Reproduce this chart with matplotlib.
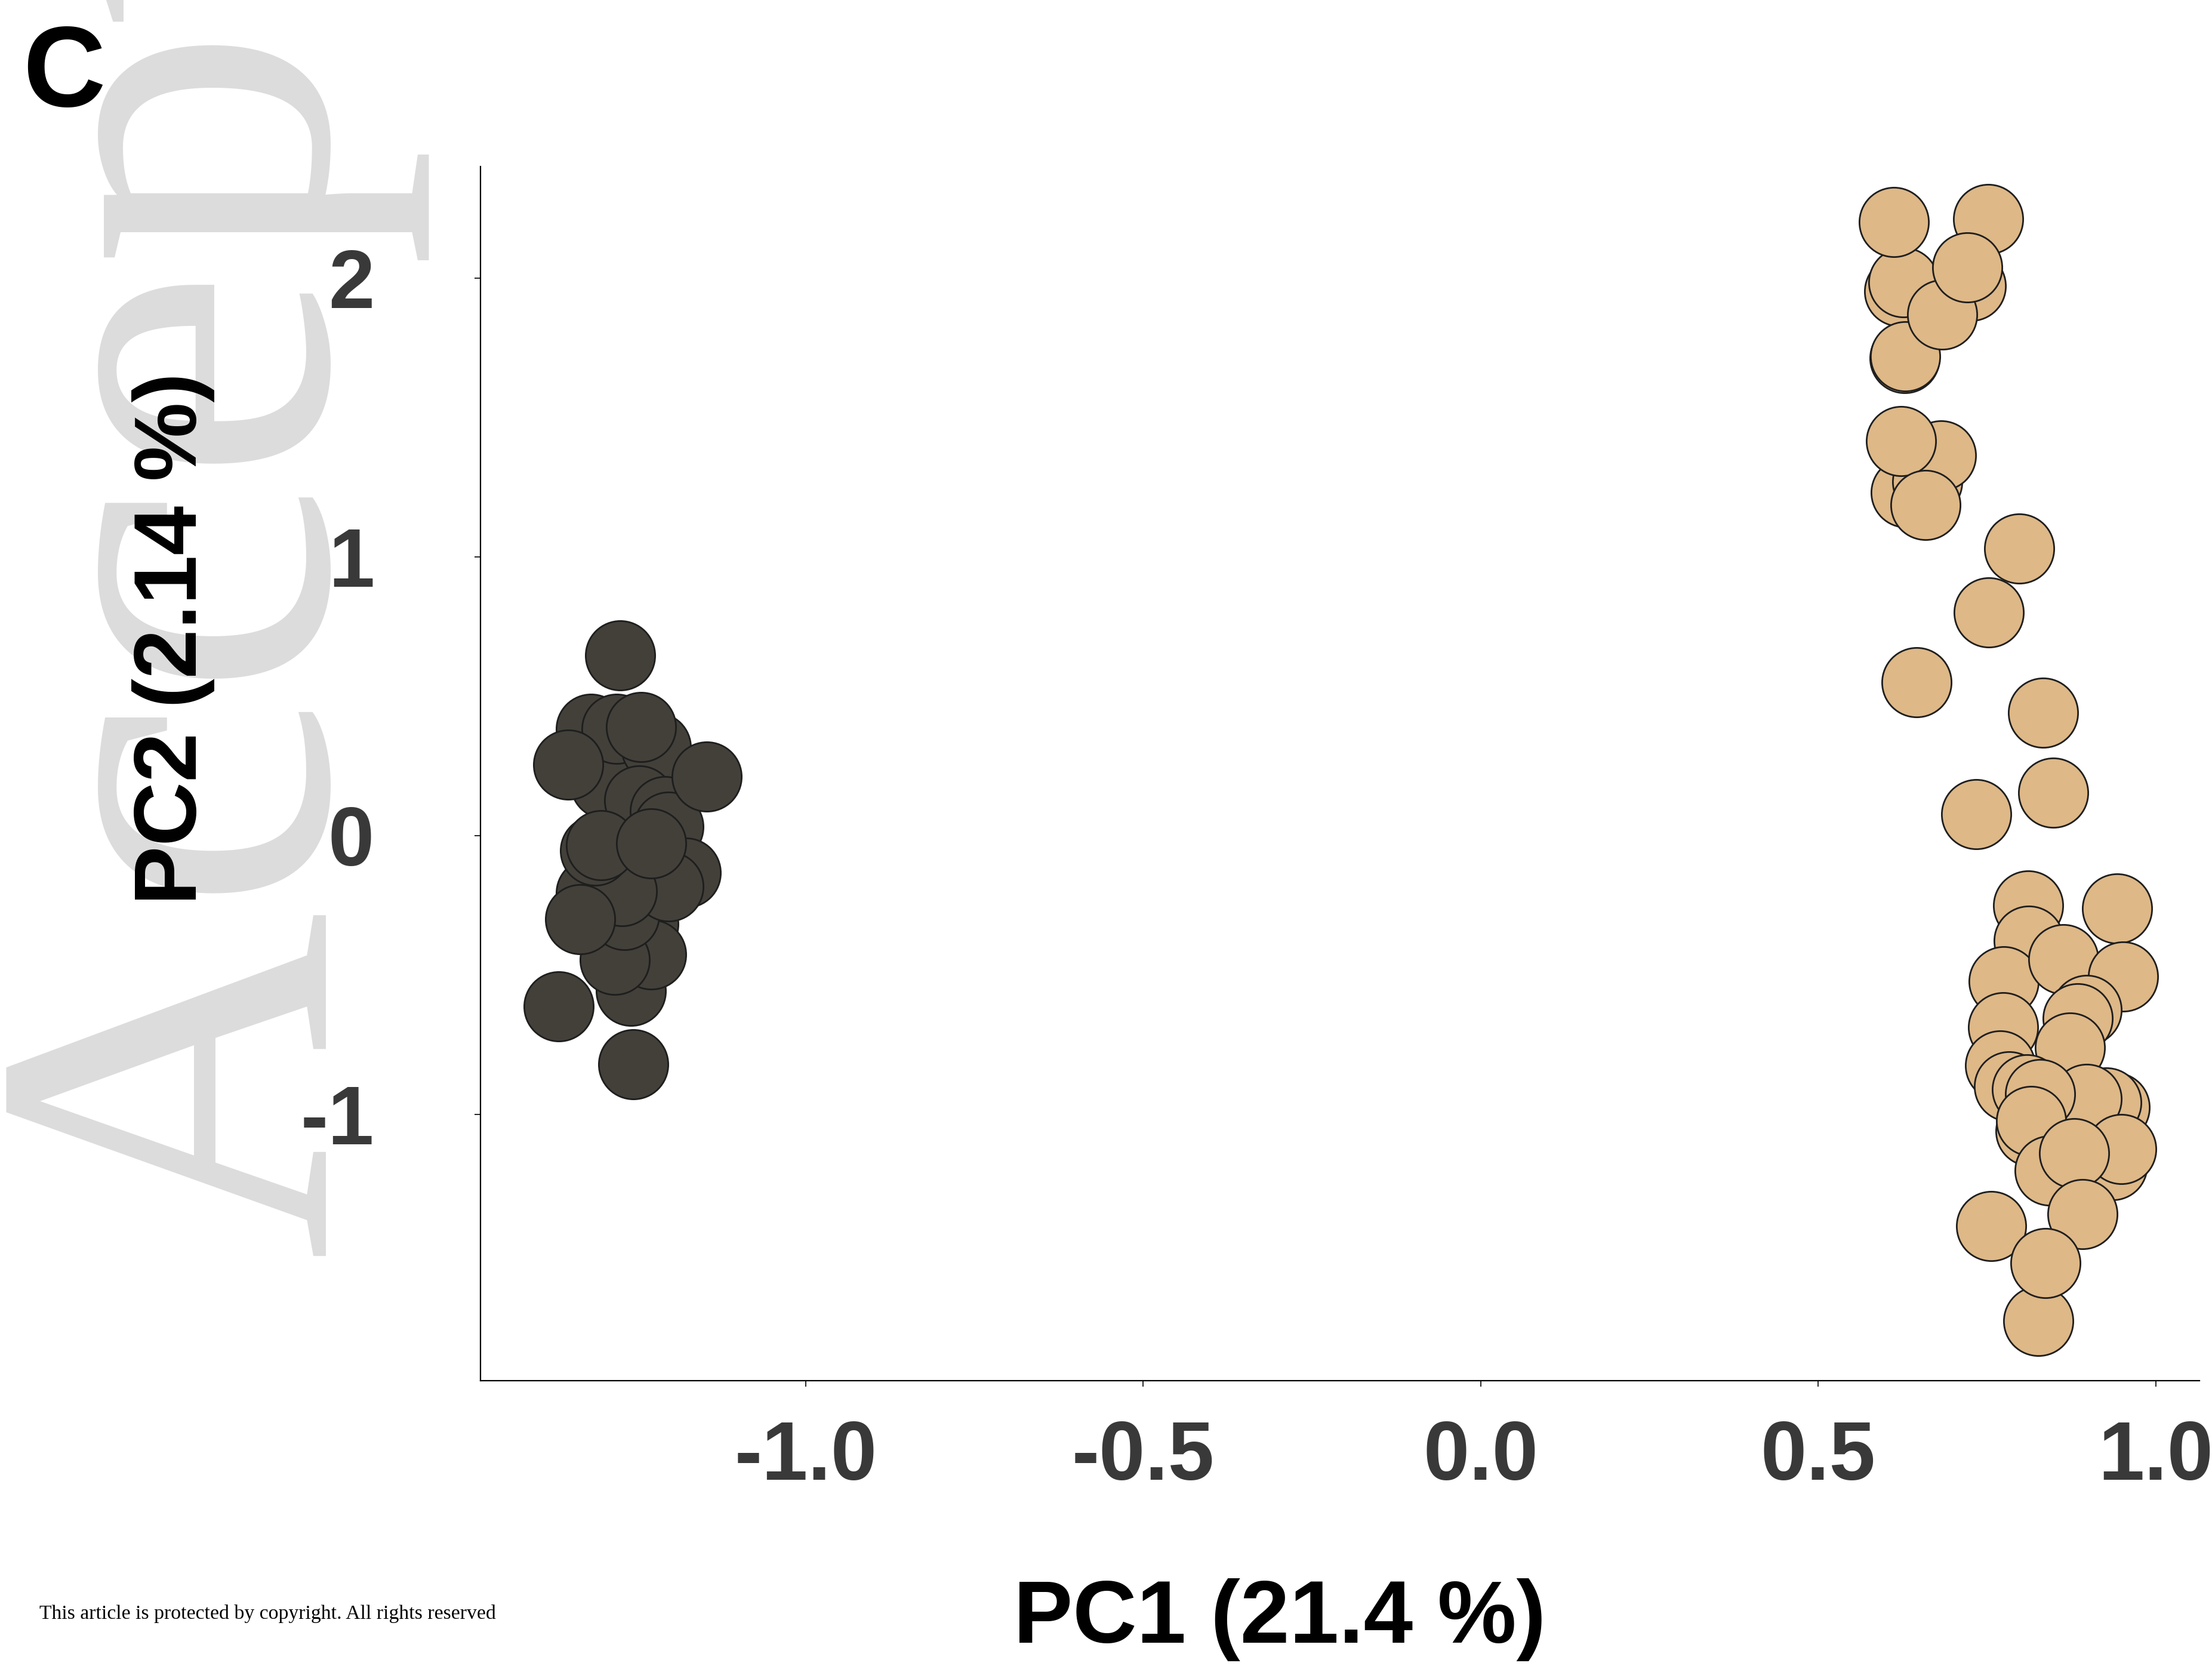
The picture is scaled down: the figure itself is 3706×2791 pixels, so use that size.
import matplotlib
matplotlib.use("Agg")
import matplotlib.pyplot as plt

# PCA scores (drawing order: back to front)
dark_x = [-1.318, -1.297, -1.280, -1.222, -1.247, -1.209, -1.203, -1.244, -1.352, -1.147, -1.275,
          -1.241, -1.259, -1.229, -1.283, -1.269, -1.318, -1.178, -1.203, -1.272, -1.312, -1.303,
          -1.229, -1.334, -1.366, -1.256]
dark_y = [0.383, 0.187, 0.383, 0.316, 0.126, 0.088, 0.033, 0.389, 0.254, 0.211, 0.647,
          -0.317, -0.556, -0.427, -0.446, -0.286, -0.206, -0.133, -0.182, -0.200, -0.053, -0.035,
          -0.028, -0.299, -0.612, -0.820]

tan_x = [0.620, 0.626, 0.612, 0.726, 0.628, 0.629, 0.684, 0.752, 0.721,
         0.630, 0.662, 0.682, 0.623, 0.659,
         0.798, 0.753, 0.646, 0.833, 0.848, 0.734,
         0.811, 0.812, 0.943, 0.775, 0.863, 0.952, 0.898, 0.774, 0.885, 0.770, 0.873, 0.783,
         0.809, 0.939, 0.927, 0.898, 0.829, 0.815, 0.816, 0.936, 0.843, 0.949, 0.879, 0.892,
         0.756, 0.826, 0.837]
tan_y = [1.952, 1.985, 2.200, 1.971, 1.712, 1.719, 1.870, 2.212, 2.039,
         1.230, 1.269, 1.364, 1.415, 1.187,
         1.030, 0.800, 0.550, 0.440, 0.154, 0.076,
         -0.250, -0.377, -0.261, -0.522, -0.444, -0.505, -0.626, -0.688, -0.656, -0.824, -0.760, -0.899,
         -0.911, -0.974, -0.957, -0.945, -0.928, -1.061, -1.024, -1.183, -1.201, -1.125, -1.140, -1.357,
         -1.401, -1.740, -1.534]

xticks = [-1.0, -0.5, 0.0, 0.5, 1.0]
xtick_labels = ["-1.0", "-0.5", "0.0", "0.5", "1.0"]
yticks = [2, 1, 0, -1]
ytick_labels = ["2", "1", "0", "-1"]

W, H = 3706, 2791
fig = plt.figure(figsize=(W / 100, H / 100), dpi=100)

# faded "Accepted Article" watermark
fig.text(548 / W, 1 - 2111 / H, "Accepted Article", rotation=90, rotation_mode="anchor",
         ha="left", va="baseline", fontsize=583, family="Liberation Serif",
         color="#dcdcdc", zorder=-1)

ax = fig.add_axes([805 / W, 1 - 2313 / H, (3685 - 805) / W, (2313 - 279) / H])
ax.patch.set_alpha(0)

ax.scatter(dark_x, dark_y, s=7000, color="#43403a", edgecolor="#1e1e1e", linewidth=2, zorder=3)
ax.scatter(tan_x, tan_y, s=7000, color="#deb887", edgecolor="#1e1e1e", linewidth=2, zorder=3)

ax.set_xlim(-1.482, 1.065)
ax.set_ylim(-1.955, 2.40)

for side in ["top", "right"]:
    ax.spines[side].set_visible(False)
for side in ["left", "bottom"]:
    ax.spines[side].set_linewidth(1.6)

ax.set_xticks(xticks)
ax.set_xticklabels(xtick_labels)
ax.set_yticks(yticks)
ax.set_yticklabels(ytick_labels)
ax.tick_params(axis="both", direction="out", length=7, width=1.2, colors="black",
               labelcolor="#393939", labelsize=100)
ax.tick_params(axis="x", pad=40)
ax.tick_params(axis="y", pad=121)
for lab in ax.get_xticklabels() + ax.get_yticklabels():
    lab.set_fontfamily("Liberation Sans")
    lab.set_fontweight("bold")

fig.text(2144 / W, 1 - 2752 / H, "PC1 (21.4 %)", ha="center", va="baseline",
         fontsize=107, fontweight="bold", family="Liberation Sans")
fig.text(291 / W, 1 - 1070 / H, "PC2 (2.14 %)", rotation=90, ha="center", va="center",
         fontsize=107, fontweight="bold", family="Liberation Sans")

fig.text(38 / W, 1 - 178 / H, "C", ha="left", va="baseline",
         fontsize=138, fontweight="bold", family="Liberation Sans")

fig.text(66 / W, 1 - 2712 / H, "This article is protected by copyright. All rights reserved",
         ha="left", va="baseline", fontsize=24.3, family="Liberation Serif")

fig.savefig("out.png", dpi=100, facecolor="white")
